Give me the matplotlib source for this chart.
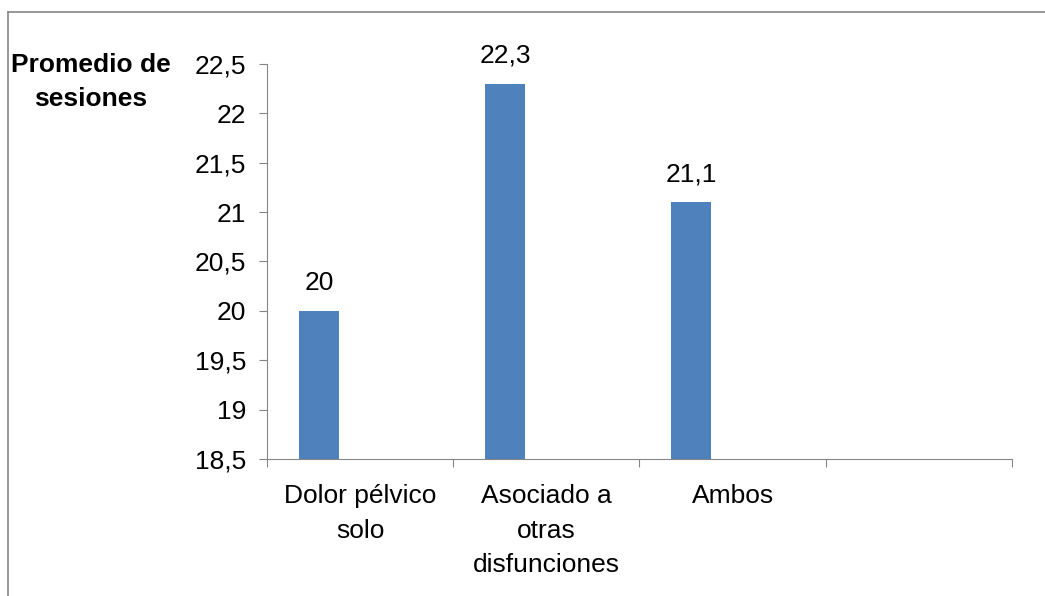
import matplotlib.pyplot as plt
from matplotlib.lines import Line2D
from matplotlib.ticker import FixedLocator

plt.rcParams['font.family'] = ['Liberation Sans', 'DejaVu Sans']

# data
categories = ['Dolor pélvico\nsolo', 'Asociado a\notras\ndisfunciones', 'Ambos', '']
values = [20, 22.3, 21.1]
y_ticks = [18.5, 19, 19.5, 20, 20.5, 21, 21.5, 22, 22.5]

gray = '#868686'
bar_color = '#4F81BD'
fs = 19

fig = plt.figure(figsize=(10.45, 5.96), dpi=100)
ax = fig.add_axes([0.2555, 0.2299, 0.7129, 0.6627])

# bars sit left of the slot centre (excel clustered look)
xs = [i + 0.279 for i in range(len(values))]
bars = ax.bar(xs, [v - 18.5 for v in values], bottom=18.5, width=0.215, color=bar_color)

for x, v in zip(xs, values):
    ax.annotate(('%g' % v).replace('.', ','), (x, v), xytext=(0, 20),
                textcoords='offset points', ha='center', va='center', fontsize=fs)

ax.set_xlim(0, len(categories))
ax.set_ylim(18.5, 22.5)
ax.set_yticks(y_ticks)
ax.set_yticklabels([('%g' % t).replace('.', ',') for t in y_ticks], fontsize=fs)

# major ticks at slot boundaries, labels at slot centres
ax.xaxis.set_major_locator(FixedLocator(range(len(categories) + 1)))
ax.xaxis.set_minor_locator(FixedLocator([i + 0.5 for i in range(len(categories))]))
ax.set_xticklabels([])
ax.set_xticklabels(categories, minor=True, fontsize=fs, linespacing=1.56, va='top')
ax.tick_params(axis='x', which='major', length=6, color=gray)
ax.tick_params(axis='x', which='minor', length=0, pad=18)
ax.tick_params(axis='y', length=6, color=gray, pad=9)

for s in ['top', 'right']:
    ax.spines[s].set_visible(False)
for s in ['left', 'bottom']:
    ax.spines[s].set_color(gray)

fig.text(0.087, 0.862, 'Promedio de\nsesiones', fontsize=fs, fontweight='bold',
         ha='center', va='center', linespacing=1.53)

# chart area border (top and left only visible)
fig.add_artist(Line2D([0.0077, 1.0], [0.9799, 0.9799], color=gray, lw=1.2))
fig.add_artist(Line2D([0.0077, 0.0077], [0.0, 0.9799], color=gray, lw=1.2))

fig.savefig('out.png', dpi=100)
